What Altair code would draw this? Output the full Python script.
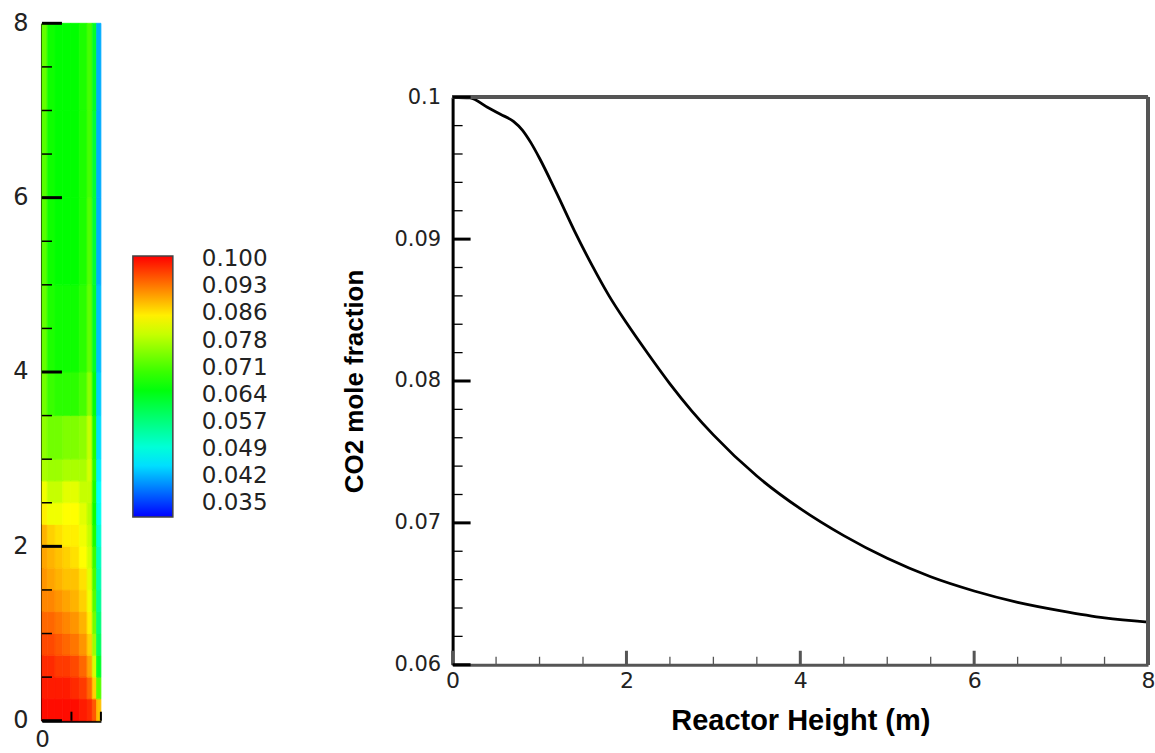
import altair as alt
import pandas as pd

# ---------------- right panel: CO2 mole fraction vs reactor height ----------------
height_m = [0, 0.2, 0.4, 0.55, 0.7, 0.8, 0.9, 1.0, 1.2, 1.4, 1.6, 1.8, 2.0, 2.25,
            2.5, 2.75, 3.0, 3.5, 4.0, 4.5, 5.0, 5.5, 6.0, 6.5, 7.0, 7.5, 8.0]
co2_frac = [0.1, 0.09995, 0.0993, 0.0988, 0.0983, 0.0977, 0.0968, 0.0957, 0.0932,
            0.0906, 0.0882, 0.0860, 0.0841, 0.0819, 0.0798, 0.0779, 0.0762, 0.0733,
            0.0710, 0.0691, 0.0675, 0.0662, 0.0652, 0.0644, 0.0638, 0.0633, 0.0630]

y_major = [0.06, 0.07, 0.08, 0.09, 0.10]
y_minor = [0.062, 0.064, 0.066, 0.068, 0.072, 0.074, 0.076, 0.078,
           0.082, 0.084, 0.086, 0.088, 0.092, 0.094, 0.096, 0.098]
x_major = [0, 2, 4, 6, 8]
x_minor = [0.5, 1, 1.5, 2.5, 3, 3.5, 4.5, 5, 5.5, 6.5, 7, 7.5]

# ---------------- left panel: contour strip (radius x height) ----------------
r_edges = [0, 0.06, 0.15, 0.24, 0.33, 0.43, 0.52, 0.58, 0.63, 0.68]
z_edges = [0, 0.25, 0.5, 0.75, 1.0, 1.25, 1.5, 1.75, 2.0, 2.25, 2.5, 2.75,
           3.0, 3.5, 4.0, 5.0, 6.0, 7.0, 8.0]
field_rows = [
    [0.100, 0.100, 0.100, 0.100, 0.100, 0.099, 0.098, 0.095, 0.088],
    [0.099, 0.099, 0.099, 0.099, 0.098, 0.097, 0.094, 0.087, 0.072],
    [0.098, 0.098, 0.097, 0.097, 0.096, 0.094, 0.090, 0.081, 0.063],
    [0.096, 0.096, 0.095, 0.094, 0.093, 0.091, 0.087, 0.077, 0.059],
    [0.094, 0.094, 0.093, 0.092, 0.091, 0.089, 0.085, 0.074, 0.057],
    [0.092, 0.092, 0.091, 0.090, 0.089, 0.087, 0.083, 0.072, 0.055],
    [0.091, 0.090, 0.089, 0.088, 0.088, 0.086, 0.082, 0.071, 0.053],
    [0.090, 0.089, 0.088, 0.087, 0.086, 0.084, 0.081, 0.070, 0.052],
    [0.089, 0.087, 0.086, 0.085, 0.085, 0.083, 0.080, 0.068, 0.050],
    [0.085, 0.083, 0.083, 0.084, 0.084, 0.082, 0.079, 0.067, 0.048],
    [0.083, 0.080, 0.080, 0.082, 0.082, 0.080, 0.080, 0.068, 0.047],
    [0.078, 0.077, 0.077, 0.078, 0.078, 0.078, 0.081, 0.069, 0.046],
    [0.076, 0.074, 0.074, 0.075, 0.075, 0.076, 0.080, 0.068, 0.045],
    [0.074, 0.070, 0.069, 0.069, 0.069, 0.071, 0.076, 0.065, 0.044],
    [0.073, 0.068, 0.067, 0.067, 0.067, 0.069, 0.073, 0.063, 0.043],
    [0.072, 0.067, 0.066, 0.066, 0.066, 0.068, 0.072, 0.062, 0.042],
    [0.072, 0.067, 0.066, 0.066, 0.066, 0.068, 0.071, 0.062, 0.042],
    [0.073, 0.067, 0.066, 0.066, 0.066, 0.068, 0.071, 0.063, 0.042],
]
strip_y_major = [0, 2, 4, 6, 8]
strip_y_minor = [0.5, 1, 1.5, 2.5, 3, 3.5, 4.5, 5, 5.5, 6.5, 7, 7.5]
strip_x_ticks = [0.34, 0.68]
levels = [0.035, 0.04222, 0.04944, 0.05667, 0.06389, 0.07111, 0.07833,
          0.08556, 0.09278, 0.100]

# ---------------- tables ----------------
cells = []
for i, row in enumerate(field_rows):
    for j, v in enumerate(row):
        cells.append({"r0": r_edges[j], "r1": r_edges[j + 1],
                      "z0": z_edges[i], "z1": z_edges[i + 1], "c": v})
field_df = pd.DataFrame(cells)
curve_df = pd.DataFrame({"h": height_m, "f": co2_frac})

LW, LH = 59, 698
RW, RH = 696, 568
LABEL_FONT = "DejaVu Sans"
TITLE_FONT = "Liberation Sans"

CB_X, CB_Y, CB_W, CB_L = 91, 233, 40, 261
C_LO, C_HI = 0.0314, 0.1008

rscale = alt.Scale(domain=[0, 0.68], nice=False, zero=False)
zscale = alt.Scale(domain=[0, 8], nice=False, zero=False)
cscale = alt.Scale(domain=[C_LO, 0.047, 0.066, 0.084, C_HI],
                   range=["#0000ff", "#00ffff", "#00ff00", "#ffff00", "#ff0000"],
                   interpolate="rgb", clamp=True)

left_x_axis = alt.Axis(values=[0], format=".0f", ticks=False, grid=False,
                       domainColor="black", domainWidth=3, labelFontSize=23,
                       labelPadding=8, labelFlush=False, title=None,
                       labelColor="#222")
left_y_axis = alt.Axis(values=strip_y_major, ticks=False, grid=False,
                       domainColor="black", domainWidth=3, labelFontSize=24,
                       labelPadding=14, labelFlush=False, title=None,
                       labelColor="#222")

field_layer = alt.Chart(field_df).mark_rect().encode(
    x=alt.X("r0:Q", scale=rscale, axis=left_x_axis),
    x2="r1:Q",
    y=alt.Y("z0:Q", scale=zscale, axis=left_y_axis),
    y2="z1:Q",
    color=alt.Color("c:Q", scale=cscale, legend=alt.Legend(
        type="gradient", orient="none", legendX=CB_X, legendY=CB_Y,
        direction="vertical",
        gradientLength=CB_L, gradientThickness=CB_W, values=levels, format=".3f",
        labelFontSize=23, labelOffset=29, labelOverlap=False, title=None,
        gradientStrokeColor="#444", gradientStrokeWidth=1.5,
        labelColor="#222", labelFont=LABEL_FONT)),
)
# thin outline in the same colour hides anti-aliasing seams between cells
seam_layer = alt.Chart(field_df).mark_rect(filled=False, strokeWidth=0.8).encode(
    x=alt.X("r0:Q", scale=rscale, axis=left_x_axis),
    x2="r1:Q",
    y=alt.Y("z0:Q", scale=zscale, axis=left_y_axis),
    y2="z1:Q",
    stroke=alt.Stroke("c:Q", scale=cscale, legend=None),
)
strip_major = alt.Chart(pd.DataFrame({"t": strip_y_major})).mark_rule(
    color="black", strokeWidth=3).encode(
    y=alt.Y("t:Q", scale=zscale, axis=left_y_axis), x=alt.value(0), x2=alt.value(20))
strip_minor = alt.Chart(pd.DataFrame({"t": strip_y_minor})).mark_rule(
    color="black", strokeWidth=1.5).encode(
    y=alt.Y("t:Q", scale=zscale, axis=left_y_axis), x=alt.value(0), x2=alt.value(10))
strip_xt = alt.Chart(pd.DataFrame({"t": strip_x_ticks})).mark_rule(
    color="black", strokeWidth=2).encode(
    x=alt.X("t:Q", scale=rscale, axis=left_x_axis), y=alt.value(LH),
    y2=alt.value(LH - 9))

left = alt.layer(field_layer, seam_layer, strip_major, strip_minor,
                 strip_xt).properties(width=LW, height=LH)

# ---------------- right chart ----------------
xs = alt.Scale(domain=[0, 8], nice=False, zero=False)
ys = alt.Scale(domain=[0.06, 0.10], nice=False, zero=False)

rx_axis = alt.Axis(values=x_major, ticks=False, grid=False, domainColor="#555",
                   domainWidth=3, labelFontSize=22, labelPadding=6,
                   labelFlush=False, labelColor="#222",
                   title="Reactor Height (m)", titleFontSize=29,
                   titleFont=TITLE_FONT, titleFontWeight="bold", titlePadding=15,
                   titleColor="black")
ry_axis = alt.Axis(values=y_major, ticks=False, grid=False, domainColor="black",
                   domainWidth=3, labelFontSize=21, labelPadding=12,
                   labelFlush=False, format=".2~f", labelColor="#222",
                   title="CO2 mole fraction", titleFontSize=26,
                   titleFont=TITLE_FONT, titleFontWeight="bold", titlePadding=26,
                   titleColor="black")

line = alt.Chart(curve_df).mark_line(color="black", strokeWidth=2.8,
                                     interpolate="monotone").encode(
    x=alt.X("h:Q", scale=xs, axis=rx_axis),
    y=alt.Y("f:Q", scale=ys, axis=ry_axis))
ymaj = alt.Chart(pd.DataFrame({"t": y_major})).mark_rule(
    color="black", strokeWidth=3).encode(
    y=alt.Y("t:Q", scale=ys, axis=ry_axis), x=alt.value(0), x2=alt.value(18))
ymin = alt.Chart(pd.DataFrame({"t": y_minor})).mark_rule(
    color="black", strokeWidth=1.3).encode(
    y=alt.Y("t:Q", scale=ys, axis=ry_axis), x=alt.value(0), x2=alt.value(10))
xmaj = alt.Chart(pd.DataFrame({"t": x_major})).mark_rule(
    color="#555", strokeWidth=3).encode(
    x=alt.X("t:Q", scale=xs, axis=rx_axis), y=alt.value(RH), y2=alt.value(RH - 14))
xmin = alt.Chart(pd.DataFrame({"t": x_minor})).mark_rule(
    color="#555", strokeWidth=1.3).encode(
    x=alt.X("t:Q", scale=xs, axis=rx_axis), y=alt.value(RH), y2=alt.value(RH - 8))
top_border = alt.Chart(curve_df).mark_rule(color="#555", strokeWidth=3).encode(
    x=alt.value(0), x2=alt.value(RW), y=alt.value(0))
right_border = alt.Chart(curve_df).mark_rule(color="#555", strokeWidth=3).encode(
    x=alt.value(RW), y=alt.value(0), y2=alt.value(RH))

right = alt.layer(line, top_border, right_border, xmaj, xmin, ymaj, ymin).properties(
    width=RW, height=RH)

SPACER_H = 63
spacer = alt.Chart(curve_df).mark_rule(opacity=0).encode(
    x=alt.value(0), y=alt.value(0), y2=alt.value(SPACER_H)).properties(
    width=RW, height=SPACER_H)

right_col = alt.vconcat(spacer, right, spacing=0)

chart = alt.hconcat(left, right_col, spacing=74).resolve_scale(
    color="independent").properties(
    padding={"left": 12, "top": 11, "right": 0, "bottom": 0},
    background="white",
).configure_view(stroke=None).configure_axis(labelFont=LABEL_FONT)

chart.save("out.html", embed_options={"renderer": "svg", "actions": False})
